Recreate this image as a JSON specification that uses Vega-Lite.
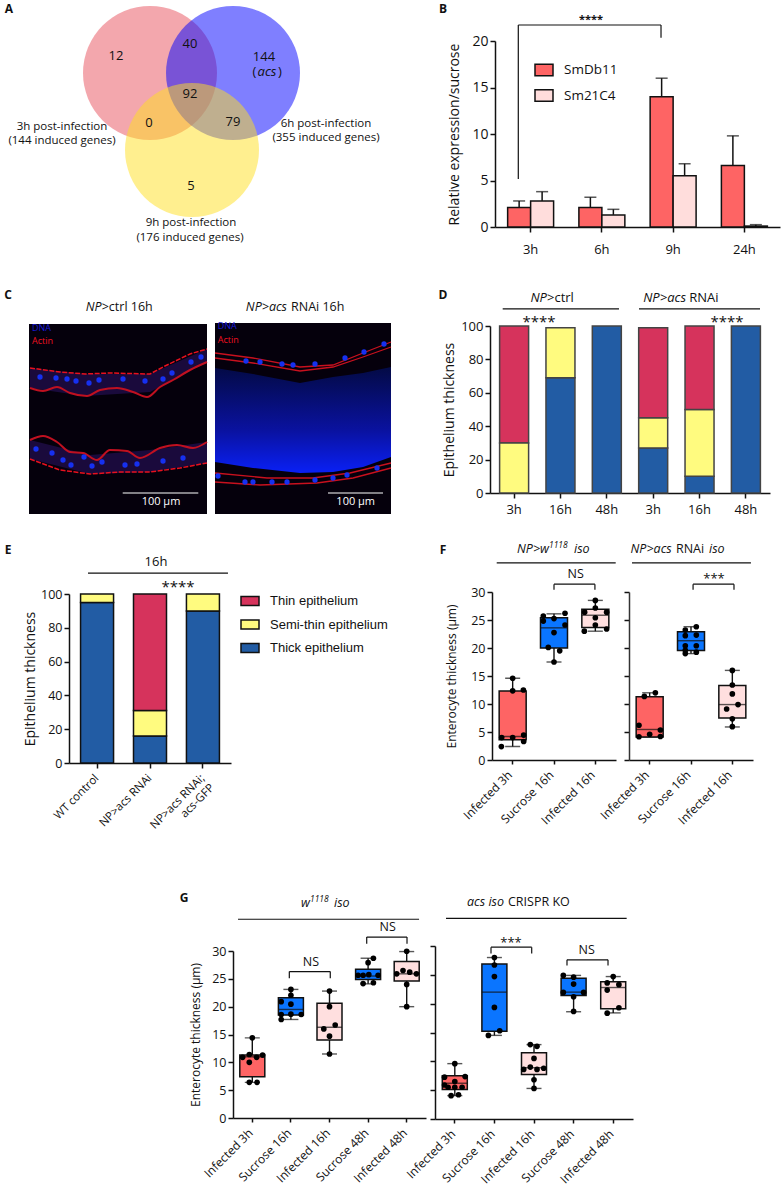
{"$schema":"https://vega.github.io/schema/vega-lite/v6.json","width":784,"height":1190,"padding":0,"autosize":"none","background":"white",
"resolve":{"scale":{"x":"independent","y":"independent","color":"independent","xOffset":"independent"},"axis":{"x":"independent","y":"independent"},"legend":{"color":"independent"}},
"config":{"view":{"stroke":null},"axis":{"grid":false,"domainColor":"#111","tickColor":"#111","domainWidth":1.5,"tickWidth":1.5,"labelColor":"#111","titleColor":"#111","labelFont":"Open Sans","titleFont":"Open Sans","titleFontWeight":"normal","labelFontSize":13,"titleFontSize":14,"tickSize":5},"legend":{"labelFont":"Open Sans"}},
"datasets":{
"f1b":[{"c":"Infected 3h","min":2.4,"q1":3.6,"med":4.2,"q3":12.3,"max":14.6},{"c":"Sucrose 16h","min":17.5,"q1":20,"med":23.6,"q3":25.4,"max":26.1},{"c":"Infected 16h","min":23,"q1":23.65,"med":25.85,"q3":26.9,"max":28.5}],
"f1p":[{"c":"Infected 3h","d":-11.3,"v":2.4},{"c":"Infected 3h","d":0,"v":14.6},{"c":"Infected 3h","d":0,"v":12.35},{"c":"Infected 3h","d":10.7,"v":12.5},{"c":"Infected 3h","d":-11,"v":4},{"c":"Infected 3h","d":0,"v":4},{"c":"Infected 3h","d":11,"v":4.45},{"c":"Infected 3h","d":11,"v":3.3},{"c":"Sucrose 16h","d":-10.7,"v":25.7},{"c":"Sucrose 16h","d":11,"v":26.2},{"c":"Sucrose 16h","d":0,"v":25.25},{"c":"Sucrose 16h","d":-10.7,"v":24.8},{"c":"Sucrose 16h","d":11,"v":24.1},{"c":"Sucrose 16h","d":0,"v":22.75},{"c":"Sucrose 16h","d":-5.7,"v":20.1},{"c":"Sucrose 16h","d":5.7,"v":19.5},{"c":"Sucrose 16h","d":0,"v":17.5},{"c":"Infected 16h","d":0,"v":28.5},{"c":"Infected 16h","d":0,"v":27.15},{"c":"Infected 16h","d":-10.7,"v":26.4},{"c":"Infected 16h","d":11.3,"v":26.4},{"c":"Infected 16h","d":0,"v":25.4},{"c":"Infected 16h","d":0,"v":24.1},{"c":"Infected 16h","d":-11,"v":23},{"c":"Infected 16h","d":11.3,"v":23.4}],
"f2b":[{"c":"Infected 3h","min":4.1,"q1":4.1,"med":5.45,"q3":11.3,"max":12},{"c":"Sucrose 16h","min":19,"q1":19.55,"med":21.3,"q3":22.9,"max":23.8},{"c":"Infected 16h","min":5.9,"q1":7.5,"med":9.9,"q3":13.3,"max":16}],
"f2p":[{"c":"Infected 3h","d":5.7,"v":12},{"c":"Infected 3h","d":-5.3,"v":11.35},{"c":"Infected 3h","d":-10.7,"v":6.2},{"c":"Infected 3h","d":10.7,"v":5.35},{"c":"Infected 3h","d":0,"v":4.6},{"c":"Infected 3h","d":-10.7,"v":4.15},{"c":"Infected 3h","d":10.7,"v":4.2},{"c":"Sucrose 16h","d":5.3,"v":23.8},{"c":"Sucrose 16h","d":-5.7,"v":23.2},{"c":"Sucrose 16h","d":-5.7,"v":22.2},{"c":"Sucrose 16h","d":5.3,"v":20.4},{"c":"Sucrose 16h","d":-5.7,"v":20.4},{"c":"Sucrose 16h","d":-5.7,"v":19.6},{"c":"Sucrose 16h","d":-5.7,"v":19},{"c":"Sucrose 16h","d":5.3,"v":19.25},{"c":"Sucrose 16h","d":5.3,"v":22.3},{"c":"Infected 16h","d":0,"v":16},{"c":"Infected 16h","d":0,"v":13.4},{"c":"Infected 16h","d":0,"v":11.8},{"c":"Infected 16h","d":-5.7,"v":9.1},{"c":"Infected 16h","d":5.7,"v":9.9},{"c":"Infected 16h","d":0,"v":7.35},{"c":"Infected 16h","d":0,"v":5.95}],
"g1b":[{"c":"Infected 3h","min":6.4,"q1":7.4,"med":11,"q3":11.3,"max":14.4},{"c":"Sucrose 16h","min":17.7,"q1":18.5,"med":19.5,"q3":21.6,"max":23.1},{"c":"Infected 16h","min":11.5,"q1":14,"med":16.3,"q3":20.6,"max":22.8},{"c":"Sucrose 48h","min":24.1,"q1":24.9,"med":25.5,"q3":26.7,"max":28.7},{"c":"Infected 48h","min":20,"q1":24.6,"med":25.9,"q3":28.1,"max":29.9}],
"g1p":[{"c":"Infected 3h","d":-3,"v":6.4},{"c":"Infected 3h","d":4.7,"v":6.4},{"c":"Infected 3h","d":0,"v":14.4},{"c":"Infected 3h","d":-3,"v":11.4},{"c":"Infected 3h","d":-9.7,"v":10.9},{"c":"Infected 3h","d":10.3,"v":11.3},{"c":"Infected 3h","d":4.3,"v":10.9},{"c":"Infected 3h","d":-3,"v":10},{"c":"Sucrose 16h","d":0,"v":23.1},{"c":"Sucrose 16h","d":0,"v":22.05},{"c":"Sucrose 16h","d":-9.7,"v":20.9},{"c":"Sucrose 16h","d":0,"v":20.45},{"c":"Sucrose 16h","d":-9.7,"v":17.7},{"c":"Sucrose 16h","d":-9.7,"v":18.6},{"c":"Sucrose 16h","d":0,"v":18.65},{"c":"Sucrose 16h","d":10.3,"v":18.6},{"c":"Infected 16h","d":0,"v":22.8},{"c":"Infected 16h","d":0,"v":20},{"c":"Infected 16h","d":-5.7,"v":16},{"c":"Infected 16h","d":5.7,"v":16.7},{"c":"Infected 16h","d":0,"v":14.7},{"c":"Infected 16h","d":0,"v":11.5},{"c":"Sucrose 48h","d":5.3,"v":28.7},{"c":"Sucrose 48h","d":0,"v":27.9},{"c":"Sucrose 48h","d":-5,"v":24.15},{"c":"Sucrose 48h","d":5.3,"v":24.3},{"c":"Sucrose 48h","d":-10,"v":25.65},{"c":"Sucrose 48h","d":-5,"v":25.65},{"c":"Sucrose 48h","d":0.7,"v":25.75},{"c":"Sucrose 48h","d":10,"v":25.65},{"c":"Infected 48h","d":0,"v":29.95},{"c":"Infected 48h","d":-3.7,"v":26.5},{"c":"Infected 48h","d":-10,"v":25.9},{"c":"Infected 48h","d":3,"v":26.2},{"c":"Infected 48h","d":9.7,"v":25.9},{"c":"Infected 48h","d":0,"v":24},{"c":"Infected 48h","d":0,"v":20}],
"g2b":[{"c":"Infected 3h","min":4.05,"q1":5.1,"med":6.2,"q3":7.5,"max":9.6},{"c":"Sucrose 16h","min":14.5,"q1":15.2,"med":22,"q3":26.9,"max":28},{"c":"Infected 16h","min":5.3,"q1":7.7,"med":8.9,"q3":11.5,"max":12.9},{"c":"Sucrose 48h","min":18.6,"q1":21.4,"med":22,"q3":24.4,"max":24.9},{"c":"Infected 48h","min":18.4,"q1":19.1,"med":22.8,"q3":23.8,"max":24.7}],
"g2p":[{"c":"Infected 3h","d":0,"v":9.6},{"c":"Infected 3h","d":-10.3,"v":7.25},{"c":"Infected 3h","d":10.3,"v":7.35},{"c":"Infected 3h","d":0,"v":6.5},{"c":"Infected 3h","d":-6.7,"v":5.5},{"c":"Infected 3h","d":0,"v":5.5},{"c":"Infected 3h","d":7.3,"v":5.5},{"c":"Infected 3h","d":-3.7,"v":4.05},{"c":"Infected 3h","d":3.7,"v":4.2},{"c":"Infected 3h","d":-10.3,"v":5.9},{"c":"Sucrose 16h","d":0,"v":28},{"c":"Sucrose 16h","d":0,"v":26.7},{"c":"Sucrose 16h","d":0,"v":24.7},{"c":"Sucrose 16h","d":0,"v":19.35},{"c":"Sucrose 16h","d":5.3,"v":15.3},{"c":"Sucrose 16h","d":-6,"v":14.5},{"c":"Infected 16h","d":-3.7,"v":12.9},{"c":"Infected 16h","d":3,"v":12.6},{"c":"Infected 16h","d":0,"v":10.5},{"c":"Infected 16h","d":-10.3,"v":8.6},{"c":"Infected 16h","d":-3.7,"v":9},{"c":"Infected 16h","d":3,"v":8.6},{"c":"Infected 16h","d":9.7,"v":8.8},{"c":"Infected 16h","d":0,"v":6.8},{"c":"Infected 16h","d":0,"v":5.3},{"c":"Sucrose 48h","d":-10.3,"v":24.9},{"c":"Sucrose 48h","d":0,"v":24.6},{"c":"Sucrose 48h","d":0,"v":23.4},{"c":"Sucrose 48h","d":-10.3,"v":21.95},{"c":"Sucrose 48h","d":10,"v":21.95},{"c":"Sucrose 48h","d":0,"v":21.2},{"c":"Sucrose 48h","d":0,"v":18.65},{"c":"Infected 48h","d":0,"v":24.7},{"c":"Infected 48h","d":-6,"v":23.6},{"c":"Infected 48h","d":5.7,"v":23.3},{"c":"Infected 48h","d":-6,"v":22.35},{"c":"Infected 48h","d":5.7,"v":19.3},{"c":"Infected 48h","d":-6,"v":18.35}]},
"layer":[
{"encoding":{"x":{"field":"x","type":"quantitative","scale":{"domain":[0,420],"range":[0,420],"nice":false},"axis":null},"y":{"field":"y","type":"quantitative","scale":{"domain":[0,285],"range":[0,285],"nice":false},"axis":null}},"layer":[
{"data":{"values":[{"x":150,"y":73}]},"mark":{"type":"point","filled":true,"shape":"circle","size":17956,"color":"#E8505B","opacity":0.5}},
{"data":{"values":[{"x":233,"y":73}]},"mark":{"type":"point","filled":true,"shape":"circle","size":17956,"color":"#0000FF","opacity":0.5}},
{"data":{"values":[{"x":192,"y":150}]},"mark":{"type":"point","filled":true,"shape":"circle","size":17956,"color":"#FFE01F","opacity":0.5}},
{"data":{"values":[{"x":116,"y":56,"t":"12"},{"x":190,"y":44,"t":"40"},{"x":264,"y":57,"t":"144"},{"x":190,"y":94,"t":"92"},{"x":149,"y":123,"t":"0"},{"x":233,"y":122,"t":"79"},{"x":191,"y":186,"t":"5"},{"x":254.5,"y":72,"t":"("},{"x":280,"y":72,"t":")"}]},"mark":{"type":"text","font":"Open Sans","fontSize":13,"color":"#111"},"encoding":{"text":{"field":"t"}}},
{"data":{"values":[{"x":62,"y":127,"t":"3h post-infection"},{"x":62,"y":141,"t":"(144 induced genes)"},{"x":326,"y":124,"t":"6h post-infection"},{"x":326,"y":138,"t":"(355 induced genes)"},{"x":191,"y":223,"t":"9h post-infection"},{"x":190,"y":238,"t":"(176 induced genes)"}]},"mark":{"type":"text","font":"Open Sans","fontSize":11.5,"color":"#111"},"encoding":{"text":{"field":"t"}}},
{"data":{"values":[{"x":267,"y":72,"t":"acs"}]},"mark":{"type":"text","font":"Open Sans","fontSize":13,"fontStyle":"italic","color":"#111"},"encoding":{"text":{"field":"t"}}},
{"data":{"values":[{"x":9,"y":9,"t":"A"},{"x":443,"y":9,"t":"B"},{"x":8,"y":295,"t":"C"},{"x":443,"y":295,"t":"D"},{"x":8,"y":550,"t":"E"},{"x":443,"y":550,"t":"F"},{"x":184,"y":898,"t":"G"}]},"mark":{"type":"text","font":"Open Sans","fontSize":12,"fontWeight":"bold","color":"#111"},"encoding":{"text":{"field":"t"}}}
]},

{"encoding":{"x":{"field":"x","type":"quantitative","scale":{"domain":[0,391],"range":[0,391],"nice":false},"axis":null},"y":{"field":"y","type":"quantitative","scale":{"domain":[285,535],"range":[285,535],"nice":false},"axis":null}},"layer":[
{"data":{"values":[{"x":29,"x2":207,"y":324,"y2":514},{"x":215,"x2":391,"y":323,"y2":514}]},"mark":{"type":"rect","color":"#05000C"},"encoding":{"x2":{"field":"x2"},"y2":{"field":"y2"}}},
{"data":{"values":[{"b":"u","x":30,"y":368,"y2":388},{"b":"u","x":85,"y":374,"y2":396},{"b":"u","x":150,"y":374,"y2":392},{"b":"u","x":207,"y":349,"y2":362},{"b":"l","x":30,"y":440,"y2":459},{"b":"l","x":90,"y":455,"y2":474},{"b":"l","x":150,"y":450,"y2":472},{"b":"l","x":207,"y":442,"y2":463}]},"mark":{"type":"area","color":"#1A0A3C"},"encoding":{"y2":{"field":"y2"},"detail":{"field":"b"}}},
{"data":{"values":[{"x":215,"y":368,"y2":462},{"x":253,"y":374,"y2":468},{"x":300,"y":383,"y2":473},{"x":333,"y":377,"y2":472},{"x":363,"y":373,"y2":467},{"x":391,"y":367,"y2":457}]},"mark":{"type":"area","color":{"x1":0,"y1":0,"x2":0,"y2":1,"gradient":"linear","stops":[{"offset":0,"color":"#030A45"},{"offset":0.6,"color":"#0A12A0"},{"offset":1,"color":"#0A20F5"}]}},"encoding":{"y2":{"field":"y2"}}},
{"data":{"values":[{"b":"a","x":30,"y":368},{"b":"a","x":60,"y":372},{"b":"a","x":85,"y":374},{"b":"a","x":110,"y":373},{"b":"a","x":150,"y":374},{"b":"a","x":165,"y":366},{"b":"a","x":190,"y":354},{"b":"a","x":207,"y":349},{"b":"b","x":30,"y":459},{"b":"b","x":60,"y":470},{"b":"b","x":90,"y":474},{"b":"b","x":120,"y":472},{"b":"b","x":150,"y":472},{"b":"b","x":180,"y":468},{"b":"b","x":207,"y":463}]},"mark":{"type":"line","color":"#E8101E","strokeWidth":1.5,"strokeDash":[5,1.5]},"encoding":{"detail":{"field":"b"}}},
{"data":{"values":[{"b":"c","x":30,"y":388},{"b":"c","x":43,"y":391},{"b":"c","x":57,"y":387},{"b":"c","x":70,"y":393},{"b":"c","x":87,"y":396},{"b":"c","x":100,"y":390},{"b":"c","x":117,"y":388},{"b":"c","x":133,"y":392},{"b":"c","x":147,"y":397},{"b":"c","x":160,"y":387},{"b":"c","x":173,"y":380},{"b":"c","x":190,"y":370},{"b":"c","x":207,"y":362},{"b":"d","x":30,"y":440},{"b":"d","x":43,"y":436},{"b":"d","x":57,"y":442},{"b":"d","x":70,"y":452},{"b":"d","x":83,"y":453},{"b":"d","x":97,"y":460},{"b":"d","x":110,"y":450},{"b":"d","x":127,"y":451},{"b":"d","x":140,"y":458},{"b":"d","x":160,"y":448},{"b":"d","x":177,"y":445},{"b":"d","x":193,"y":448},{"b":"d","x":207,"y":442}]},"mark":{"type":"line","color":"#C01020","strokeWidth":2,"interpolate":"monotone"},"encoding":{"detail":{"field":"b"}}},
{"data":{"values":[{"b":"e","x":215,"y":353},{"b":"e","x":253,"y":358},{"b":"e","x":300,"y":367},{"b":"e","x":333,"y":365},{"b":"e","x":363,"y":353},{"b":"e","x":391,"y":342},{"b":"f","x":215,"y":358},{"b":"f","x":253,"y":363},{"b":"f","x":300,"y":371},{"b":"f","x":333,"y":367},{"b":"f","x":363,"y":357},{"b":"f","x":391,"y":347},{"b":"g","x":215,"y":473},{"b":"g","x":267,"y":478},{"b":"g","x":313,"y":478},{"b":"g","x":350,"y":473},{"b":"g","x":391,"y":463},{"b":"h","x":215,"y":482},{"b":"h","x":260,"y":485},{"b":"h","x":317,"y":483},{"b":"h","x":353,"y":478},{"b":"h","x":391,"y":468}]},"mark":{"type":"line","color":"#C8101E","strokeWidth":1.3},"encoding":{"detail":{"field":"b"}}},
{"data":{"values":[{"x":40,"y":377},{"x":56,"y":378},{"x":67,"y":379},{"x":76,"y":381},{"x":89,"y":383},{"x":99,"y":380},{"x":123,"y":379},{"x":145,"y":381},{"x":163,"y":379},{"x":172,"y":373},{"x":191,"y":362},{"x":201,"y":357},{"x":36,"y":449},{"x":52,"y":453},{"x":63,"y":460},{"x":71,"y":465},{"x":84,"y":457},{"x":92,"y":466},{"x":102,"y":462},{"x":125,"y":465},{"x":137,"y":464},{"x":163,"y":461},{"x":183,"y":458},{"x":246,"y":361},{"x":260,"y":362},{"x":282,"y":364},{"x":293,"y":365},{"x":315,"y":364},{"x":345,"y":358},{"x":364,"y":352},{"x":384,"y":344},{"x":218,"y":476},{"x":245,"y":482},{"x":253,"y":482},{"x":272,"y":482},{"x":287,"y":482},{"x":315,"y":480},{"x":333,"y":478},{"x":347,"y":475},{"x":377,"y":468}]},"mark":{"type":"point","filled":true,"shape":"circle","size":28,"color":"#1630F0","opacity":1}},
{"data":{"values":[{"x":122.7,"x2":198.3,"y":493,"y2":493},{"x":328,"x2":383,"y":493,"y2":493}]},"mark":{"type":"rule","color":"white","strokeWidth":1.2},"encoding":{"x2":{"field":"x2"},"y2":{"field":"y2"}}},
{"data":{"values":[{"x":161,"y":502,"t":"100 µm"},{"x":355.7,"y":502,"t":"100 µm"}]},"mark":{"type":"text","font":"Open Sans","fontSize":11,"color":"white"},"encoding":{"text":{"field":"t"}}},
{"data":{"values":[{"x":32,"y":328,"t":"DNA"},{"x":217.7,"y":326,"t":"DNA"}]},"mark":{"type":"text","font":"Open Sans","fontSize":9,"align":"left","color":"#1A1AD8"},"encoding":{"text":{"field":"t"}}},
{"data":{"values":[{"x":32,"y":340.5,"t":"Actin"},{"x":217.7,"y":340,"t":"Actin"}]},"mark":{"type":"text","font":"Open Sans","fontSize":9,"align":"left","color":"#F01020"},"encoding":{"text":{"field":"t"}}},
{"data":{"values":[{"x":101.7,"y":306.7,"t":"NP"},{"x":287,"y":306.7,"t":"NP>acs"}]},"mark":{"type":"text","font":"Open Sans","fontSize":12.5,"fontStyle":"italic","align":"right","color":"#111"},"encoding":{"text":{"field":"t"}}},
{"data":{"values":[{"x":101.7,"y":306.7,"t":">ctrl 16h"},{"x":291,"y":306.7,"t":"RNAi 16h"}]},"mark":{"type":"text","font":"Open Sans","fontSize":12.5,"align":"left","color":"#111"},"encoding":{"text":{"field":"t"}}}
]},

{"data":{"values":[{"v":0}]},"mark":{"type":"point","opacity":0},"encoding":{"y":{"field":"v","type":"quantitative","scale":{"domain":[0,20],"range":[227,41],"nice":false},"axis":{"title":"Relative expression/sucrose","orient":"left","offset":-495,"values":[0,5,10,15,20],"labelFontSize":14,"titlePadding":10}}}},
{"data":{"values":[{"c":"3h","s":"SmDb11","v":2.1,"e":2.8},{"c":"3h","s":"Sm21C4","v":2.8,"e":3.8},{"c":"6h","s":"SmDb11","v":2.1,"e":3.2},{"c":"6h","s":"Sm21C4","v":1.3,"e":1.9},{"c":"9h","s":"SmDb11","v":14,"e":16},{"c":"9h","s":"Sm21C4","v":5.5,"e":6.8},{"c":"24h","s":"SmDb11","v":6.6,"e":9.8},{"c":"24h","s":"Sm21C4","v":0.1,"e":0.25}]},
"encoding":{"x":{"field":"c","type":"nominal","scale":{"domain":["3h","6h","9h","24h"],"range":[495,780],"paddingInner":0,"paddingOuter":0},"axis":{"title":null,"labelAngle":0,"labelPadding":11,"labelFontSize":13,"orient":"bottom","offset":-963}},"xOffset":{"field":"s","type":"nominal","scale":{"domain":["SmDb11","Sm21C4"],"paddingInner":0,"paddingOuter":0.55}}},
"layer":[
{"mark":{"type":"rule","color":"#111","strokeWidth":1.5},"encoding":{"y":{"field":"v","type":"quantitative","scale":{"domain":[0,20],"range":[227,41],"nice":false},"axis":null},"y2":{"field":"e"}}},
{"mark":{"type":"tick","color":"#111","size":12,"thickness":1.5},"encoding":{"y":{"field":"e","type":"quantitative","axis":null}}},
{"mark":{"type":"bar","stroke":"#111","strokeWidth":1.5},"encoding":{"y":{"field":"v","type":"quantitative","axis":null},"color":{"field":"s","type":"nominal","scale":{"domain":["SmDb11","Sm21C4"],"range":["#FE6464","#FFDDDC"]},"legend":{"title":null,"orient":"none","legendX":534,"legendY":60,"symbolType":"M-1,-0.65H1V0.65H-1Z","symbolSize":324,"symbolStrokeColor":"#111","symbolStrokeWidth":1.5,"symbolOpacity":1,"labelFontSize":13.5,"labelColor":"#111","rowPadding":6.5,"labelOffset":10}}}}
]},
{"encoding":{"x":{"field":"x","type":"quantitative","scale":{"domain":[0,4],"range":[495,780],"nice":false},"axis":null},"y":{"field":"y","type":"quantitative","scale":{"domain":[0,20],"range":[227,41],"nice":false},"axis":null}},"layer":[
{"data":{"values":[{"x":0.327,"x2":2.33,"y":21.72,"y2":21.72},{"x":0.327,"x2":0.327,"y":21.72,"y2":5.16},{"x":2.33,"x2":2.33,"y":21.72,"y2":20.35}]},"mark":{"type":"rule","color":"#111","strokeWidth":1.2},"encoding":{"x2":{"field":"x2"},"y2":{"field":"y2"}}},
{"data":{"values":[{"x":1.347,"y":22.3,"t":"****"}]},"mark":{"type":"text","font":"Open Sans","fontSize":11,"fontWeight":"bold","color":"#111"},"encoding":{"text":{"field":"t"}}}
]},

{"data":{"values":[{"c":"a3","s":"Thin epithelium","k":3,"v":70},{"c":"a3","s":"Semi-thin epithelium","k":2,"v":30},{"c":"a16","s":"Thick epithelium","k":1,"v":69},{"c":"a16","s":"Semi-thin epithelium","k":2,"v":30},{"c":"a48","s":"Thick epithelium","k":1,"v":100},{"c":"b3","s":"Thick epithelium","k":1,"v":27},{"c":"b3","s":"Semi-thin epithelium","k":2,"v":18},{"c":"b3","s":"Thin epithelium","k":3,"v":54},{"c":"b16","s":"Thick epithelium","k":1,"v":10},{"c":"b16","s":"Semi-thin epithelium","k":2,"v":40},{"c":"b16","s":"Thin epithelium","k":3,"v":50},{"c":"b48","s":"Thick epithelium","k":1,"v":100}]},
"mark":{"type":"bar","size":29,"stroke":"#444","strokeWidth":1.5},
"encoding":{"x":{"field":"c","type":"nominal","scale":{"domain":["a3","a16","a48","b3","b16","b48"],"range":[490,770],"paddingInner":0,"paddingOuter":0.02},"axis":{"title":null,"orient":"bottom","offset":-697,"labelAngle":0,"labelFontSize":13,"labelPadding":5,"labelExpr":"replace(replace(datum.label,'a',''),'b','')+'h'"}},"y":{"field":"v","type":"quantitative","stack":"zero","scale":{"domain":[0,100],"range":[493,326],"nice":false},"axis":{"title":"Epithelium thickness","orient":"left","offset":-490,"values":[0,20,40,60,80,100],"titlePadding":4}},"color":{"field":"s","type":"nominal","scale":{"domain":["Thin epithelium","Semi-thin epithelium","Thick epithelium"],"range":["#D6335C","#FFFB7F","#225CA4"]},"legend":null},"order":{"field":"k"}}},
{"encoding":{"x":{"field":"x","type":"quantitative","scale":{"domain":[0,6],"range":[490,770],"nice":false},"axis":null},"y":{"field":"y","type":"quantitative","scale":{"domain":[0,100],"range":[493,326],"nice":false},"axis":null}},"layer":[
{"data":{"values":[{"x":0.272,"x2":2.764,"y":110.2,"y2":110.2},{"x":3.193,"x2":5.786,"y":110.2,"y2":110.2}]},"mark":{"type":"rule","color":"#111","strokeWidth":1.3},"encoding":{"x2":{"field":"x2"},"y2":{"field":"y2"}}},
{"data":{"values":[{"x":1.221,"y":116.9,"t":"NP"},{"x":4.2,"y":116.9,"t":"NP>acs"}]},"mark":{"type":"text","font":"Open Sans","fontSize":13,"fontStyle":"italic","align":"right","color":"#111"},"encoding":{"text":{"field":"t"}}},
{"data":{"values":[{"x":1.221,"y":116.9,"t":">ctrl"},{"x":4.27,"y":116.9,"t":"RNAi"}]},"mark":{"type":"text","font":"Open Sans","fontSize":13,"align":"left","color":"#111"},"encoding":{"text":{"field":"t"}}},
{"data":{"values":[{"x":1.05,"y":102.5,"t":"****"},{"x":5.079,"y":102.5,"t":"****"}]},"mark":{"type":"text","font":"Open Sans","fontSize":15,"color":"#111"},"encoding":{"text":{"field":"t"}}}
]},

{"data":{"values":[{"c":"WT control","s":"Thick epithelium","k":1,"v":95},{"c":"WT control","s":"Semi-thin epithelium","k":2,"v":5},{"c":"NP>acs RNAi","s":"Thick epithelium","k":1,"v":16},{"c":"NP>acs RNAi","s":"Semi-thin epithelium","k":2,"v":15},{"c":"NP>acs RNAi","s":"Thin epithelium","k":3,"v":69},{"c":"NP>acs RNAi;|acs-GFP","s":"Thick epithelium","k":1,"v":90},{"c":"NP>acs RNAi;|acs-GFP","s":"Semi-thin epithelium","k":2,"v":10}]},
"mark":{"type":"bar","size":33,"stroke":"#111","strokeWidth":1.5},
"encoding":{"x":{"field":"c","type":"nominal","scale":{"domain":["WT control","NP>acs RNAi","NP>acs RNAi;|acs-GFP"],"range":[69,231],"paddingInner":0,"paddingOuter":0.03},"axis":{"title":null,"orient":"bottom","offset":-427,"labelAngle":-45,"labelFontSize":11.5,"labelExpr":"split(datum.label,'|')","labelPadding":4,"labelOffset":-4}},"y":{"field":"v","type":"quantitative","stack":"zero","scale":{"domain":[0,100],"range":[763,594],"nice":false},"axis":{"title":"Epithelium thickness","orient":"left","offset":-69,"values":[0,20,40,60,80,100],"labelFontSize":12.5,"titlePadding":3}},"color":{"field":"s","type":"nominal","scale":{"domain":["Thin epithelium","Semi-thin epithelium","Thick epithelium"],"range":["#D6335C","#FFFB7F","#225CA4"]},"legend":{"title":null,"orient":"none","legendX":240,"legendY":591,"symbolType":"M-1,-0.5H1V0.5H-1Z","symbolSize":324,"symbolStrokeColor":"#111","symbolStrokeWidth":1.5,"symbolOpacity":1,"labelFont":"Liberation Sans","labelFontSize":13,"labelColor":"#111","rowPadding":5.5,"labelOffset":10}},"order":{"field":"k"}}},
{"encoding":{"x":{"field":"x","type":"quantitative","scale":{"domain":[0,3],"range":[69,231],"nice":false},"axis":null},"y":{"field":"y","type":"quantitative","scale":{"domain":[0,100],"range":[763,594],"nice":false},"axis":null}},"layer":[
{"data":{"values":[{"x":0.352,"x2":2.944,"y":112.4,"y2":112.4}]},"mark":{"type":"rule","color":"#111","strokeWidth":1.3},"encoding":{"x2":{"field":"x2"},"y2":{"field":"y2"}}},
{"data":{"values":[{"x":1.61,"y":119,"t":"16h"}]},"mark":{"type":"text","font":"Open Sans","fontSize":13,"color":"#111"},"encoding":{"text":{"field":"t"}}},
{"data":{"values":[{"x":2.02,"y":104,"t":"****"}]},"mark":{"type":"text","font":"Open Sans","fontSize":15,"color":"#111"},"encoding":{"text":{"field":"t"}}}
]},

{"data":{"values":[{"v":0}]},"mark":{"type":"point","opacity":0},"encoding":{"y":{"field":"v","type":"quantitative","scale":{"domain":[0,30],"range":[760,592],"nice":false},"axis":{"title":"Enterocyte thickness (µm)","orient":"left","offset":-492,"titleFontSize":12,"labelFontSize":12.5,"values":[0,5,10,15,20,25,30],"titlePadding":12}}}},
{"data":{"name":"f1b"},"encoding":{"x":{"field":"c","type":"nominal","scale":{"domain":["Infected 3h","Sucrose 16h","Infected 16h"],"range":[492,616],"paddingInner":0,"paddingOuter":0},"axis":{"title":null,"orient":"bottom","offset":-430,"labelAngle":-45,"labelFontSize":12,"tickSize":4,"labelPadding":5,"labelOffset":-6}}},"layer":[
{"mark":{"type":"rule","color":"#111","strokeWidth":1.4},"encoding":{"y":{"field":"min","type":"quantitative","scale":{"domain":[0,30],"range":[760,592],"nice":false},"axis":null},"y2":{"field":"max"}}},
{"mark":{"type":"tick","color":"#111","size":15,"thickness":1.4},"encoding":{"y":{"field":"min","type":"quantitative","axis":null}}},
{"mark":{"type":"tick","color":"#111","size":15,"thickness":1.4},"encoding":{"y":{"field":"max","type":"quantitative","axis":null}}},
{"mark":{"type":"bar","size":27,"stroke":"#111","strokeWidth":1.5},"encoding":{"y":{"field":"q1","type":"quantitative","axis":null},"y2":{"field":"q3"},"color":{"field":"c","type":"nominal","scale":{"domain":["Infected 3h","Sucrose 16h","Infected 16h"],"range":["#FE6464","#0A75FF","#FFDFDF"]},"legend":null}}},
{"mark":{"type":"tick","color":"#111","size":27,"thickness":1.4},"encoding":{"y":{"field":"med","type":"quantitative","axis":null}}},
{"data":{"name":"f1p"},"mark":{"type":"point","filled":true,"shape":"circle","size":32,"color":"#000","opacity":1},"encoding":{"xOffset":{"field":"d","type":"quantitative","scale":{"domain":[-20,20],"range":[0.67,40.67]}},"y":{"field":"v","type":"quantitative","axis":null}}}
]},
{"encoding":{"x":{"field":"x","type":"quantitative","scale":{"domain":[0,3],"range":[492,616],"nice":false},"axis":null},"y":{"field":"y","type":"quantitative","scale":{"domain":[0,30],"range":[760,592],"nice":false},"axis":null}},"layer":[
{"data":{"values":[{"x":0.114,"x2":2.993,"y":35.2,"y2":35.2},{"x":1.5,"x2":2.49,"y":31.4,"y2":31.4},{"x":1.5,"x2":1.5,"y":31.4,"y2":30.4},{"x":2.49,"x2":2.49,"y":31.4,"y2":30.4}]},"mark":{"type":"rule","color":"#111","strokeWidth":1.2},"encoding":{"x2":{"field":"x2"},"y2":{"field":"y2"}}},
{"data":{"values":[{"x":1.379,"y":37.7,"t":"NP>w"}]},"mark":{"type":"text","font":"Open Sans","fontSize":12.5,"fontStyle":"italic","align":"right","color":"#111"},"encoding":{"text":{"field":"t"}}},
{"data":{"values":[{"x":1.984,"y":37.7,"t":"iso"}]},"mark":{"type":"text","font":"Open Sans","fontSize":12.5,"fontStyle":"italic","align":"left","color":"#111"},"encoding":{"text":{"field":"t"}}},
{"data":{"values":[{"x":1.379,"y":38.4,"t":"1118"}]},"mark":{"type":"text","font":"Open Sans","fontSize":8.5,"fontStyle":"italic","align":"left","color":"#111"},"encoding":{"text":{"field":"t"}}},
{"data":{"values":[{"x":2.025,"y":33.2,"t":"NS"}]},"mark":{"type":"text","font":"Open Sans","fontSize":12.5,"color":"#111"},"encoding":{"text":{"field":"t"}}}
]},

{"data":{"values":[{"v":0}]},"mark":{"type":"point","opacity":0},"encoding":{"y":{"field":"v","type":"quantitative","scale":{"domain":[0,30],"range":[760,592],"nice":false},"axis":{"title":null,"orient":"left","offset":-629,"labels":false,"values":[0,5,10,15,20,25,30],"domainColor":"#333"}}}},
{"data":{"name":"f2b"},"encoding":{"x":{"field":"c","type":"nominal","scale":{"domain":["Infected 3h","Sucrose 16h","Infected 16h"],"range":[629,753],"paddingInner":0,"paddingOuter":0},"axis":{"title":null,"orient":"bottom","offset":-430,"labelAngle":-45,"labelFontSize":12,"tickSize":4,"labelPadding":5,"labelOffset":-6}}},"layer":[
{"mark":{"type":"rule","color":"#111","strokeWidth":1.4},"encoding":{"y":{"field":"min","type":"quantitative","scale":{"domain":[0,30],"range":[760,592],"nice":false},"axis":null},"y2":{"field":"max"}}},
{"mark":{"type":"tick","color":"#111","size":15,"thickness":1.4},"encoding":{"y":{"field":"min","type":"quantitative","axis":null}}},
{"mark":{"type":"tick","color":"#111","size":15,"thickness":1.4},"encoding":{"y":{"field":"max","type":"quantitative","axis":null}}},
{"mark":{"type":"bar","size":27,"stroke":"#111","strokeWidth":1.5},"encoding":{"y":{"field":"q1","type":"quantitative","axis":null},"y2":{"field":"q3"},"color":{"field":"c","type":"nominal","scale":{"domain":["Infected 3h","Sucrose 16h","Infected 16h"],"range":["#FE6464","#0A75FF","#FFDFDF"]},"legend":null}}},
{"mark":{"type":"tick","color":"#111","size":27,"thickness":1.4},"encoding":{"y":{"field":"med","type":"quantitative","axis":null}}},
{"data":{"name":"f2p"},"mark":{"type":"point","filled":true,"shape":"circle","size":32,"color":"#000","opacity":1},"encoding":{"xOffset":{"field":"d","type":"quantitative","scale":{"domain":[-20,20],"range":[0.67,40.67]}},"y":{"field":"v","type":"quantitative","axis":null}}}
]},
{"encoding":{"x":{"field":"x","type":"quantitative","scale":{"domain":[0,3],"range":[629,753],"nice":false},"axis":null},"y":{"field":"y","type":"quantitative","scale":{"domain":[0,30],"range":[760,592],"nice":false},"axis":null}},"layer":[
{"data":{"values":[{"x":0.073,"x2":2.95,"y":35.2,"y2":35.2},{"x":1.55,"x2":2.54,"y":31.4,"y2":31.4},{"x":1.55,"x2":1.55,"y":31.4,"y2":30.4},{"x":2.54,"x2":2.54,"y":31.4,"y2":30.4}]},"mark":{"type":"rule","color":"#111","strokeWidth":1.2},"encoding":{"x2":{"field":"x2"},"y2":{"field":"y2"}}},
{"data":{"values":[{"x":1.033,"y":37.7,"t":"NP>acs"}]},"mark":{"type":"text","font":"Open Sans","fontSize":12.5,"fontStyle":"italic","align":"right","color":"#111"},"encoding":{"text":{"field":"t"}}},
{"data":{"values":[{"x":1.137,"y":37.7,"t":"RNAi"}]},"mark":{"type":"text","font":"Open Sans","fontSize":12.5,"align":"left","color":"#111"},"encoding":{"text":{"field":"t"}}},
{"data":{"values":[{"x":1.936,"y":37.7,"t":"iso"}]},"mark":{"type":"text","font":"Open Sans","fontSize":12.5,"fontStyle":"italic","align":"left","color":"#111"},"encoding":{"text":{"field":"t"}}},
{"data":{"values":[{"x":2.057,"y":32.4,"t":"***"}]},"mark":{"type":"text","font":"Open Sans","fontSize":13,"color":"#111"},"encoding":{"text":{"field":"t"}}}
]},

{"data":{"values":[{"v":0}]},"mark":{"type":"point","opacity":0},"encoding":{"y":{"field":"v","type":"quantitative","scale":{"domain":[0,30],"range":[1118,951],"nice":false},"axis":{"title":"Enterocyte thickness (µm)","orient":"left","offset":-233,"titleFontSize":12,"labelFontSize":12.5,"values":[0,5,10,15,20,25,30],"titlePadding":9}}}},
{"data":{"name":"g1b"},"encoding":{"x":{"field":"c","type":"nominal","scale":{"domain":["Infected 3h","Sucrose 16h","Infected 16h","Sucrose 48h","Infected 48h"],"range":[233,426],"paddingInner":0,"paddingOuter":0},"axis":{"title":null,"orient":"bottom","offset":-72,"labelAngle":-45,"labelFontSize":12,"tickSize":4,"labelPadding":5,"labelOffset":-5}}},"layer":[
{"mark":{"type":"rule","color":"#111","strokeWidth":1.4},"encoding":{"y":{"field":"min","type":"quantitative","scale":{"domain":[0,30],"range":[1118,951],"nice":false},"axis":null},"y2":{"field":"max"}}},
{"mark":{"type":"tick","color":"#111","size":15,"thickness":1.4},"encoding":{"y":{"field":"min","type":"quantitative","axis":null}}},
{"mark":{"type":"tick","color":"#111","size":15,"thickness":1.4},"encoding":{"y":{"field":"max","type":"quantitative","axis":null}}},
{"mark":{"type":"bar","size":25,"stroke":"#111","strokeWidth":1.5},"encoding":{"y":{"field":"q1","type":"quantitative","axis":null},"y2":{"field":"q3"},"color":{"field":"c","type":"nominal","scale":{"domain":["Infected 3h","Sucrose 16h","Infected 16h","Sucrose 48h","Infected 48h"],"range":["#FE6464","#0A75FF","#FFDFDF","#0A75FF","#FFDFDF"]},"legend":null}}},
{"mark":{"type":"tick","color":"#111","size":25,"thickness":1.4},"encoding":{"y":{"field":"med","type":"quantitative","axis":null}}},
{"data":{"name":"g1p"},"mark":{"type":"point","filled":true,"shape":"circle","size":32,"color":"#000","opacity":1},"encoding":{"xOffset":{"field":"d","type":"quantitative","scale":{"domain":[-20,20],"range":[-0.7,39.3]}},"y":{"field":"v","type":"quantitative","axis":null}}}
]},
{"encoding":{"x":{"field":"x","type":"quantitative","scale":{"domain":[0,5],"range":[233,426],"nice":false},"axis":null},"y":{"field":"y","type":"quantitative","scale":{"domain":[0,30],"range":[1118,951],"nice":false},"axis":null}},"layer":[
{"data":{"values":[{"x":0.13,"x2":4.82,"y":35.7,"y2":35.7},{"x":1.459,"x2":2.52,"y":26.3,"y2":26.3},{"x":1.459,"x2":1.459,"y":26.3,"y2":25.1},{"x":2.52,"x2":2.52,"y":26.3,"y2":25.1},{"x":3.464,"x2":4.508,"y":32.5,"y2":32.5},{"x":3.464,"x2":3.464,"y":32.5,"y2":31.3},{"x":4.508,"x2":4.508,"y":32.5,"y2":31.3}]},"mark":{"type":"rule","color":"#111","strokeWidth":1.2},"encoding":{"x2":{"field":"x2"},"y2":{"field":"y2"}}},
{"data":{"values":[{"x":1.995,"y":38.6,"t":"w"}]},"mark":{"type":"text","font":"Open Sans","fontSize":12.5,"fontStyle":"italic","align":"right","color":"#111"},"encoding":{"text":{"field":"t"}}},
{"data":{"values":[{"x":2.617,"y":38.6,"t":"iso"}]},"mark":{"type":"text","font":"Open Sans","fontSize":12.5,"fontStyle":"italic","align":"left","color":"#111"},"encoding":{"text":{"field":"t"}}},
{"data":{"values":[{"x":1.995,"y":39.3,"t":"1118"}]},"mark":{"type":"text","font":"Open Sans","fontSize":8.5,"fontStyle":"italic","align":"left","color":"#111"},"encoding":{"text":{"field":"t"}}},
{"data":{"values":[{"x":2.02,"y":28.1,"t":"NS"},{"x":4.008,"y":34.3,"t":"NS"}]},"mark":{"type":"text","font":"Open Sans","fontSize":12.5,"color":"#111"},"encoding":{"text":{"field":"t"}}}
]},

{"data":{"values":[{"v":0}]},"mark":{"type":"point","opacity":0},"encoding":{"y":{"field":"v","type":"quantitative","scale":{"domain":[0,30],"range":[1119,946],"nice":false},"axis":{"title":null,"orient":"left","offset":-435,"labels":false,"values":[0,5,10,15,20,25,30]}}}},
{"data":{"name":"g2b"},"encoding":{"x":{"field":"c","type":"nominal","scale":{"domain":["Infected 3h","Sucrose 16h","Infected 16h","Sucrose 48h","Infected 48h"],"range":[435,633],"paddingInner":0,"paddingOuter":0},"axis":{"title":null,"orient":"bottom","offset":-71,"labelAngle":-45,"labelFontSize":12,"tickSize":4,"labelPadding":5,"labelOffset":-5}}},"layer":[
{"mark":{"type":"rule","color":"#111","strokeWidth":1.4},"encoding":{"y":{"field":"min","type":"quantitative","scale":{"domain":[0,30],"range":[1119,946],"nice":false},"axis":null},"y2":{"field":"max"}}},
{"mark":{"type":"tick","color":"#111","size":15,"thickness":1.4},"encoding":{"y":{"field":"min","type":"quantitative","axis":null}}},
{"mark":{"type":"tick","color":"#111","size":15,"thickness":1.4},"encoding":{"y":{"field":"max","type":"quantitative","axis":null}}},
{"mark":{"type":"bar","size":25,"stroke":"#111","strokeWidth":1.5},"encoding":{"y":{"field":"q1","type":"quantitative","axis":null},"y2":{"field":"q3"},"color":{"field":"c","type":"nominal","scale":{"domain":["Infected 3h","Sucrose 16h","Infected 16h","Sucrose 48h","Infected 48h"],"range":["#FE6464","#0A75FF","#FFDFDF","#0A75FF","#FFDFDF"]},"legend":null}}},
{"mark":{"type":"tick","color":"#111","size":25,"thickness":1.4},"encoding":{"y":{"field":"med","type":"quantitative","axis":null}}},
{"data":{"name":"g2p"},"mark":{"type":"point","filled":true,"shape":"circle","size":32,"color":"#000","opacity":1},"encoding":{"xOffset":{"field":"d","type":"quantitative","scale":{"domain":[-20,20],"range":[-0.2,39.8]}},"y":{"field":"v","type":"quantitative","axis":null}}}
]},
{"encoding":{"x":{"field":"x","type":"quantitative","scale":{"domain":[0,5],"range":[435,633],"nice":false},"axis":null},"y":{"field":"y","type":"quantitative","scale":{"domain":[0,30],"range":[1119,946],"nice":false},"axis":null}},"layer":[
{"data":{"values":[{"x":0.278,"x2":4.84,"y":34.8,"y2":34.8},{"x":1.414,"x2":2.442,"y":29.8,"y2":29.8},{"x":1.414,"x2":1.414,"y":29.8,"y2":28.7},{"x":2.442,"x2":2.442,"y":29.8,"y2":28.7},{"x":3.333,"x2":4.369,"y":27.6,"y2":27.6},{"x":3.333,"x2":3.333,"y":27.6,"y2":26.6},{"x":4.369,"x2":4.369,"y":27.6,"y2":26.6}]},"mark":{"type":"rule","color":"#111","strokeWidth":1.2},"encoding":{"x2":{"field":"x2"},"y2":{"field":"y2"}}},
{"data":{"values":[{"x":1.742,"y":37.7,"t":"acs iso"}]},"mark":{"type":"text","font":"Open Sans","fontSize":12.5,"fontStyle":"italic","align":"right","color":"#111"},"encoding":{"text":{"field":"t"}}},
{"data":{"values":[{"x":1.843,"y":37.7,"t":"CRISPR KO"}]},"mark":{"type":"text","font":"Open Sans","fontSize":12.5,"align":"left","color":"#111"},"encoding":{"text":{"field":"t"}}},
{"data":{"values":[{"x":3.83,"y":29.3,"t":"NS"}]},"mark":{"type":"text","font":"Open Sans","fontSize":12.5,"color":"#111"},"encoding":{"text":{"field":"t"}}},
{"data":{"values":[{"x":1.919,"y":30.6,"t":"***"}]},"mark":{"type":"text","font":"Open Sans","fontSize":13,"color":"#111"},"encoding":{"text":{"field":"t"}}}
]}
]}
